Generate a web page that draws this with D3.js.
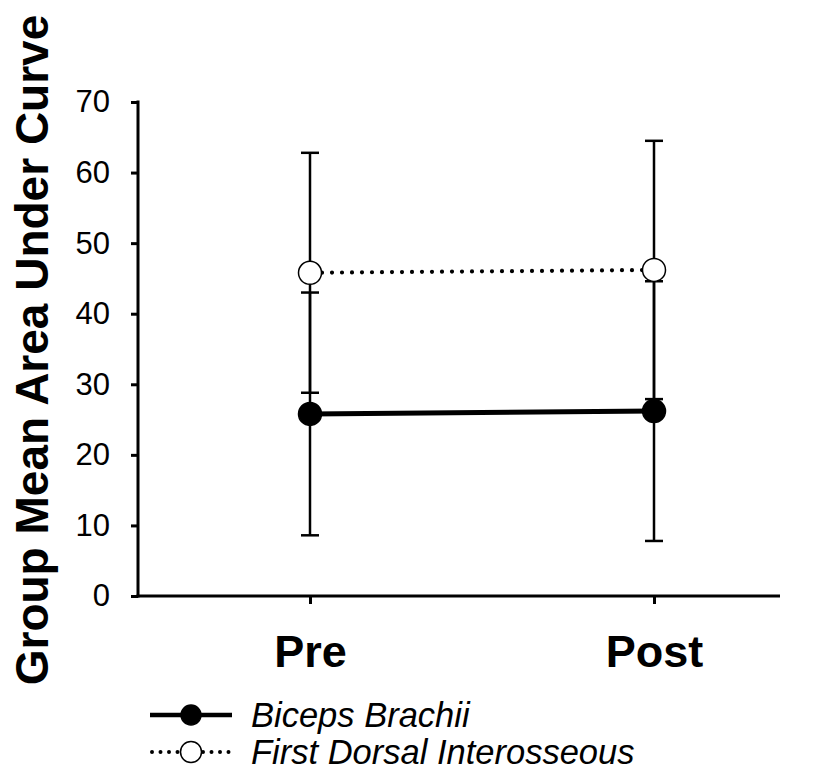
<!DOCTYPE html>
<html><head><meta charset="utf-8">
<script src="https://cdn.jsdelivr.net/npm/d3@7"></script>
<style>body{margin:0;background:#fff}svg{display:block}text{font-family:Arial,"Liberation Sans",sans-serif}</style>
</head><body><svg id="c" width="816" height="773"></svg>
<script>
const categories = ["Pre", "Post"];
const bicepsMean = [25.8, 26.2];
const bicepsSD = [17.2, 18.4];
const fdiMean = [45.8, 46.2];
const fdiSD = [17.0, 18.3];
const yTicks = [0, 10, 20, 30, 40, 50, 60, 70];
const seriesNames = ["Biceps Brachii", "First Dorsal Interosseous"];

const FONT = "Arial, 'Liberation Sans', sans-serif";
const svg = d3.select("#c");
const y = d3.scaleLinear().domain([0, 70]).range([596, 102]);
const x = d3.scalePoint().domain(categories).range([310, 654]);
const axisLeft = 138, axisRight = 780;

// y axis
const ya = svg.append("g").attr("transform", `translate(${axisLeft},0)`)
  .call(d3.axisLeft(y).tickValues(yTicks).tickSize(7).tickPadding(21).tickFormat(d3.format("d")));
ya.select(".domain").remove();
ya.selectAll(".tick line").attr("stroke", "#000").attr("stroke-width", 3);
ya.selectAll(".tick text").attr("font-size", 31).attr("fill", "#000").attr("font-family", FONT);
svg.append("line").attr("x1", axisLeft).attr("x2", axisLeft).attr("y1", y(70) - 1.5).attr("y2", y(0) + 1.5)
  .attr("stroke", "#000").attr("stroke-width", 3);

// x axis
const xa = svg.append("g").attr("transform", `translate(0,${y(0)})`)
  .call(d3.axisBottom(x).tickSize(8).tickPadding(0));
xa.select(".domain").remove();
xa.selectAll(".tick line").attr("stroke", "#000").attr("stroke-width", 3);
xa.selectAll(".tick text").attr("font-size", 45).attr("font-weight", "bold").attr("fill", "#000")
  .attr("font-family", FONT).attr("dy", null).attr("y", 71);
svg.append("line").attr("x1", axisLeft - 1.5).attr("x2", axisRight).attr("y1", y(0)).attr("y2", y(0))
  .attr("stroke", "#000").attr("stroke-width", 3);

// y title
svg.append("text").attr("transform", `translate(48,350) rotate(-90)`)
  .attr("text-anchor", "middle").attr("font-size", 46).attr("font-weight", "bold")
  .text("Group Mean Area Under Curve");

const series = [
  {name: seriesNames[0], mean: bicepsMean, sd: bicepsSD, fill: "#000", dash: null, width: 5},
  {name: seriesNames[1], mean: fdiMean, sd: fdiSD, fill: "#fff", dash: "0,10", width: 4.2}
];
const cap = 9, r = 11.5;

// error bars
series.forEach(s => {
  categories.forEach((c, i) => {
    const cx = x(c), lo = y(s.mean[i] - s.sd[i]), hi = y(s.mean[i] + s.sd[i]);
    const g = svg.append("g").attr("stroke", "#000").attr("stroke-width", 2.5);
    g.append("line").attr("x1", cx).attr("x2", cx).attr("y1", lo).attr("y2", hi);
    g.append("line").attr("x1", cx - cap).attr("x2", cx + cap).attr("y1", lo).attr("y2", lo);
    g.append("line").attr("x1", cx - cap).attr("x2", cx + cap).attr("y1", hi).attr("y2", hi);
  });
});

// lines
const line = d3.line().x((d, i) => x(categories[i])).y(d => y(d));
series.forEach(s => {
  svg.append("path").attr("d", line(s.mean)).attr("fill", "none").attr("stroke", "#000")
    .attr("stroke-width", s.width).attr("stroke-dasharray", s.dash).attr("stroke-linecap", s.dash ? "round" : "butt")
    .attr("stroke-dashoffset", s.dash ? -22 : 0);
});
// markers
series.forEach(s => {
  categories.forEach((c, i) => {
    svg.append("circle").attr("cx", x(c)).attr("cy", y(s.mean[i])).attr("r", r)
      .attr("fill", s.fill).attr("stroke", "#000").attr("stroke-width", 1.5);
  });
});

// legend
const lg = svg.append("g");
const rows = [715, 752];
series.forEach((s, i) => {
  const yy = rows[i];
  if (!s.dash) {
    lg.append("line").attr("x1", 150).attr("x2", 232).attr("y1", yy).attr("y2", yy)
      .attr("stroke", "#000").attr("stroke-width", 4.5);
  } else {
    lg.append("line").attr("x1", 152).attr("x2", 230).attr("y1", yy).attr("y2", yy)
      .attr("stroke", "#000").attr("stroke-width", 4).attr("stroke-dasharray", "0,8.5").attr("stroke-linecap", "round");
  }
  lg.append("circle").attr("cx", 191).attr("cy", yy).attr("r", i === 0 ? 10 : 10.5)
    .attr("fill", s.fill).attr("stroke", "#000").attr("stroke-width", 1.5);
  lg.append("text").attr("x", 251).attr("y", yy + 12).attr("font-size", 34.5).attr("font-style", "italic").text(s.name);
});
</script></body></html>
